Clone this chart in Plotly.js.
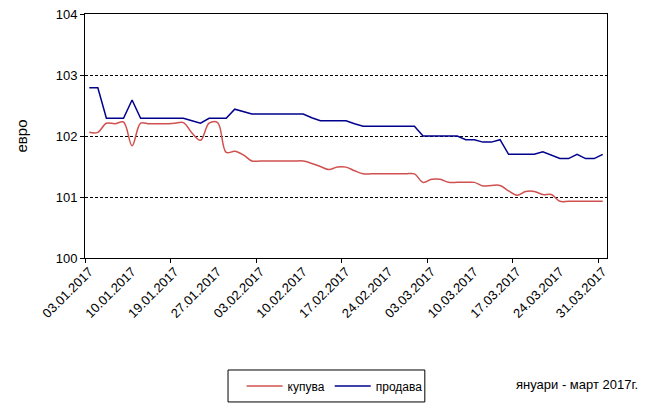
<!DOCTYPE html>
<html>
<head>
<meta charset="utf-8">
<script src="https://cdn.plot.ly/plotly-3.0.1.min.js"></script>
<style>html,body{margin:0;padding:0;background:#fff;}#chart{width:654px;height:405px;}</style>
</head>
<body>
<div id="chart"></div>
<script>
const dates = [
  "03.01.2017","04.01.2017","05.01.2017","06.01.2017","09.01.2017","10.01.2017",
  "11.01.2017","12.01.2017","13.01.2017","16.01.2017","19.01.2017",
  "20.01.2017","23.01.2017","24.01.2017","25.01.2017","27.01.2017",
  "30.01.2017","31.01.2017","01.02.2017","02.02.2017","03.02.2017",
  "06.02.2017","07.02.2017","08.02.2017","09.02.2017","10.02.2017",
  "13.02.2017","14.02.2017","15.02.2017","16.02.2017","17.02.2017",
  "20.02.2017","21.02.2017","22.02.2017","23.02.2017","24.02.2017",
  "27.02.2017","28.02.2017","01.03.2017","02.03.2017","03.03.2017",
  "06.03.2017","07.03.2017","08.03.2017","09.03.2017","10.03.2017",
  "13.03.2017","14.03.2017","15.03.2017","16.03.2017","17.03.2017",
  "20.03.2017","21.03.2017","22.03.2017","23.03.2017","24.03.2017",
  "27.03.2017","28.03.2017","29.03.2017","30.03.2017","31.03.2017"
];
const kupuva = [
  102.06,102.06,102.21,102.20,102.23,101.84,102.21,102.20,102.20,102.20,
  102.21,102.22,102.05,101.93,102.21,102.22,101.73,101.75,101.69,101.59,
  101.59,101.59,101.59,101.59,101.59,101.59,101.55,101.50,101.45,101.49,
  101.49,101.43,101.38,101.38,101.38,101.38,101.38,101.38,101.38,101.24,
  101.29,101.29,101.24,101.24,101.24,101.24,101.18,101.19,101.19,101.10,
  101.03,101.09,101.09,101.04,101.04,100.93,100.93,100.93,100.93,100.93,
  100.93
];
const prodava = [
  102.79,102.79,102.29,102.29,102.29,102.59,102.29,102.29,102.29,102.29,
  102.29,102.29,102.25,102.21,102.29,102.29,102.29,102.44,102.40,102.36,
  102.36,102.36,102.36,102.36,102.36,102.36,102.30,102.25,102.25,102.25,
  102.25,102.20,102.16,102.16,102.16,102.16,102.16,102.16,102.16,102.00,
  102.00,102.00,102.00,102.00,101.94,101.94,101.90,101.90,101.94,101.70,
  101.70,101.70,101.70,101.74,101.69,101.63,101.63,101.70,101.63,101.63,
  101.70
];
const seriesNames = ["купува","продава"];
const yTitle = "евро";
const periodNote = "януари - март 2017г.";
const labelStep = 5;

const idx = dates.map((d, i) => i);
const tickIdx = idx.filter(i => i % labelStep === 0);
const tickText = tickIdx.map(i => dates[i]);

const font = "Liberation Sans, Arial, sans-serif";

const traces = [
  {x: idx, y: kupuva, name: seriesNames[0], type: "scatter", mode: "lines",
   line: {color: "#d0514f", width: 1.5, shape: "spline", smoothing: 1}, hoverinfo: "skip"},
  {x: idx, y: prodava, name: seriesNames[1], type: "scatter", mode: "lines",
   line: {color: "#00008c", width: 1.5}, hoverinfo: "skip"}
];

const layout = {
  width: 654, height: 405,
  margin: {l: 85, r: 47, t: 14, b: 147, autoexpand: false},
  paper_bgcolor: "#fff", plot_bgcolor: "#fff",
  font: {family: font, size: 12, color: "#000"},
  showlegend: true,
  legend: {orientation: "h", x: 0.3, xanchor: "left", y: -0.525, yanchor: "middle",
           borderwidth: 0, itemwidth: 36, bgcolor: "rgba(0,0,0,0)", font: {size: 12, family: font}},
  xaxis: {
    automargin: false,
    range: [-0.5, idx.length - 0.5], tickmode: "array", tickvals: tickIdx, ticktext: tickText,
    tickangle: -45, ticks: "", showgrid: false, zeroline: false,
    showline: true, linecolor: "#000", linewidth: 1, mirror: true,
    tickfont: {size: 13, family: font},
    minor: {tick0: -0.5, dtick: 10, ticks: "outside", ticklen: 4, tickcolor: "#000", showgrid: false}
  },
  yaxis: {
    automargin: false,
    range: [100, 104], dtick: 1, ticks: "outside", ticklen: 4, tickcolor: "#000",
    showgrid: true, gridcolor: "#000", gridwidth: 1, griddash: "3px,2px",
    zeroline: false, showline: true, linecolor: "#000", linewidth: 1, mirror: true,
    tickfont: {size: 13, family: font},
    title: {text: yTitle, font: {size: 15, family: font}, standoff: 24}
  },
  shapes: [
    {type: "rect", xref: "paper", yref: "paper", x0: 0.274, x1: 0.651, y0: -0.590, y1: -0.459,
     line: {color: "#000", width: 1}, fillcolor: "rgba(0,0,0,0)"}
  ],
  annotations: [
    {text: periodNote, xref: "paper", yref: "paper", x: 1.063, y: -0.52,
     xanchor: "right", yanchor: "middle", showarrow: false, font: {size: 13, family: font}}
  ]
};

Plotly.newPlot("chart", traces, layout, {staticPlot: true});
</script>
</body>
</html>
